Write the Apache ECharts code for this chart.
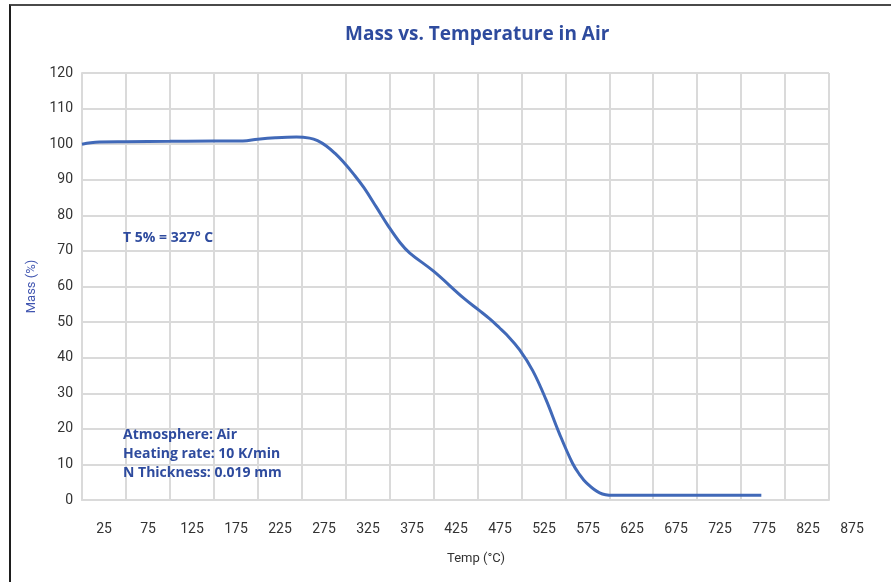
<!DOCTYPE html>
<html>
<head>
    <meta charset="utf-8">
    <title>Mass vs. Temperature in Air</title>
    <script src="https://cdn.jsdelivr.net/npm/echarts@6/dist/echarts.min.js"></script>
    <style>
        body { margin: 0; background: #fff; }
        #main { position: absolute; left: 0; top: 0; width: 891px; height: 582px; }
        #frame {
            position: absolute; left: 9px; top: 4px; width: 882px; height: 578px;
            border-top: 2px solid #4a4a4a; border-left: 2px solid #1e1e1e;
            box-sizing: border-box; pointer-events: none;
        }
    </style>
</head>
<body>
    <div id="main"></div>
    <div id="frame"></div>

    <script type="text/javascript">
        // temperature (°C) and mass (%)
        var temps = [0, 10, 20, 50, 100, 150, 183, 200, 220, 244, 259, 268, 278, 288, 297, 310, 321, 335, 348, 362, 373,
                     400, 434, 452, 464, 475, 483, 498, 513, 528, 543, 558, 566, 574, 589, 604, 650, 700, 773];
        var mass  = [100.0, 100.4, 100.6, 100.7, 100.8, 100.9, 100.9, 101.4, 101.8, 102.0, 101.7, 101.0, 99.5, 97.4, 95.1, 91.3, 87.7, 82.3, 77.2, 72.3, 69.4,
                     64.3, 56.8, 53.3, 50.9, 48.4, 46.5, 42.2, 36.3, 28.2, 18.8, 10.4, 7.2, 4.8, 2.0, 1.3, 1.3, 1.3, 1.3];
        var xTickLabels = ['25', '75', '125', '175', '225', '275', '325', '375', '425', '475', '525', '575', '625', '675', '725', '775', '825', '875'];

        var blue = '#2e4b9e';
        var gridColor = '#dadada';

        var myChart = echarts.init(document.getElementById('main'));

        var points = [];
        for (var i = 0; i < temps.length; i++) {
            points.push([temps[i], mass[i]]);
        }

        var option = {
            backgroundColor: '#fff',
            animation: false,
            textStyle: { fontFamily: 'Roboto' },
            title: {
                text: 'Mass vs. Temperature in Air',
                left: 340,
                top: 20,
                textStyle: { color: blue, fontSize: 19, fontWeight: 'bold', fontFamily: 'Open Sans' }
            },
            grid: [
                { left: 82, top: 73, width: 747, height: 427 },
                { left: 60, top: 73, width: 792, height: 427 }
            ],
            xAxis: [{
                gridIndex: 0,
                type: 'value',
                min: 0,
                max: 850,
                interval: 50,
                axisLabel: { show: false },
                axisTick: { show: false },
                axisLine: { show: true, lineStyle: { color: gridColor, width: 2 } },
                splitLine: { show: true, lineStyle: { color: gridColor, width: 2 } }
            }, {
                // label-only axis: ticks at band centres 25, 75 ... 875
                gridIndex: 1,
                type: 'value',
                min: -25,
                max: 875,
                interval: 50,
                axisLine: { show: false },
                axisTick: { show: false },
                splitLine: { show: false },
                axisLabel: {
                    color: '#333',
                    fontSize: 14,
                    margin: 22,
                    showMinLabel: true,
                    showMaxLabel: true,
                    formatter: function (v) {
                        var s = String(Math.round(v));
                        return xTickLabels.indexOf(s) >= 0 ? s : '';
                    }
                }
            }],
            yAxis: [{
                gridIndex: 0,
                type: 'value',
                min: 0,
                max: 120,
                interval: 10,
                name: 'Mass (%)',
                nameLocation: 'middle',
                nameGap: 44,
                nameTextStyle: { color: '#4055b0', fontSize: 13 },
                axisLabel: { color: '#333', fontSize: 14, margin: 9 },
                axisTick: { show: false },
                axisLine: { show: true, lineStyle: { color: gridColor, width: 2 } },
                splitLine: { show: true, lineStyle: { color: gridColor, width: 2 } }
            }, {
                gridIndex: 1,
                type: 'value',
                min: 0,
                max: 120,
                show: false
            }],
            graphic: [
                { type: 'text', left: 447, top: 552, z: 100,
                  style: { text: 'Temp (°C)', fill: '#333', font: '13px Roboto' } },
                { type: 'text', left: 123, top: 231, z: 100,
                  style: { text: 'T 5% = 327° C', fill: blue, font: 'bold 14px "Open Sans"' } },
                { type: 'text', left: 123, top: 428, z: 100,
                  style: { text: 'Atmosphere: Air', fill: blue, font: 'bold 14px "Open Sans"' } },
                { type: 'text', left: 123, top: 447, z: 100,
                  style: { text: 'Heating rate: 10 K/min', fill: blue, font: 'bold 14px "Open Sans"' } },
                { type: 'text', left: 123, top: 466, z: 100,
                  style: { text: 'N Thickness: 0.019 mm', fill: blue, font: 'bold 14px "Open Sans"' } }
            ],
            series: [{
                name: 'Mass',
                type: 'line',
                xAxisIndex: 0,
                yAxisIndex: 0,
                smooth: 0.4,
                symbol: 'none',
                lineStyle: { color: '#4169b8', width: 3 },
                data: points
            }]
        };

        myChart.setOption(option);
    </script>
</body>
</html>
